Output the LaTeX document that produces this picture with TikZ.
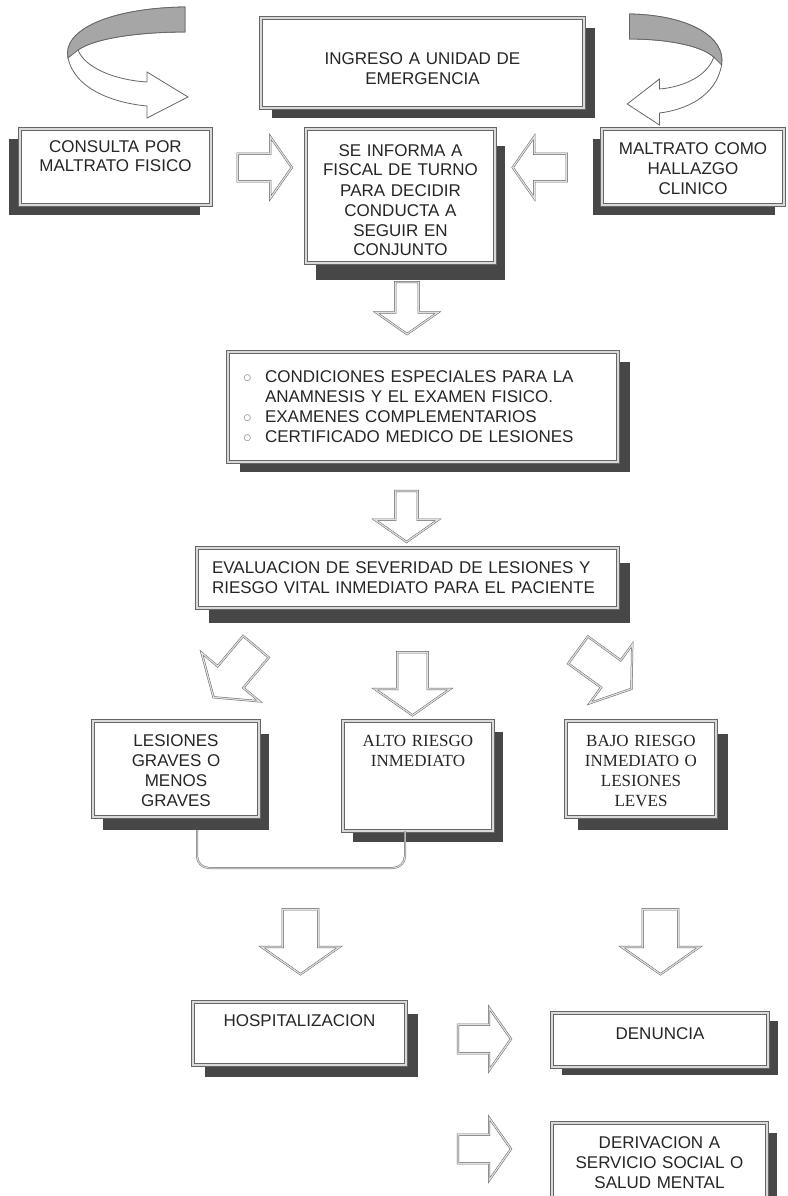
\documentclass[tikz,border=0pt]{standalone}
\usepackage{fontspec}
\setmainfont{Liberation Sans}
\newfontfamily\timesfont{Liberation Serif}
\usetikzlibrary{shapes.arrows,shadows,calc}

\begin{document}
\begin{tikzpicture}[x=1pt,y=-1pt,
    every node/.style={inner sep=0pt,outer sep=0pt,text=black!85,font=\fontsize{17}{20}\selectfont},
    box/.style={draw=black!60,double=black!15,double distance=2pt,line width=.7pt,fill=white,align=center},
    dropsh/.style 2 args={drop shadow={shadow xshift=#1,shadow yshift=#2,fill=black!72,opacity=1}},
    blockarrow/.style={single arrow,draw=black!60,double=black!12,double distance=1.2pt,line width=.5pt,fill=white,inner xsep=0pt,single arrow tip angle=110,single arrow head indent=0pt},
    curve/.style={draw=black!60,line width=.8pt},
    bracket/.style={draw=black!55,double=black!15,double distance=1pt,line width=.5pt,rounded corners=12pt}]
      \useasboundingbox (0,0) rectangle (787,1196);

      \filldraw[curve,fill=white] (185,7) .. controls (110,8) and (62,30) .. (68,58) .. controls (75,90) and (115,103) .. (147,106) -- (147,118) -- (188,97) -- (147,72) -- (147,82) .. controls (115,80) and (85,68) .. (78,50) .. controls (95,38) and (140,32) .. (185,32) -- cycle;
      \filldraw[curve,fill=black!35] (185,7) .. controls (110,8) and (62,30) .. (68,58) -- (78,50) .. controls (95,38) and (140,32) .. (185,32) -- cycle;
      \begin{scope}[xshift=775pt,xscale=-0.786,yshift=-7pt]
        \filldraw[curve,fill=white] (185,7) .. controls (110,8) and (62,30) .. (68,58) .. controls (75,90) and (115,103) .. (147,106) -- (147,118) -- (188,97) -- (147,72) -- (147,82) .. controls (115,80) and (85,68) .. (78,50) .. controls (95,38) and (140,32) .. (185,32) -- cycle;
        \filldraw[curve,fill=black!35] (185,7) .. controls (110,8) and (62,30) .. (68,58) -- (78,50) .. controls (95,38) and (140,32) .. (185,32) -- cycle;
      \end{scope}

      \draw (422.5,63) node[box,dropsh={11pt}{-10pt},text width=323pt,text height=47pt,text depth=43pt] (ingreso) {INGRESO A UNIDAD DE\\EMERGENCIA};
      \draw (115.5,167) node[box,dropsh={-11pt}{-10pt},text width=191pt,text height=23pt,text depth=53pt] (consulta) {CONSULTA POR\\MALTRATO FISICO};
      \draw (400.5,196) node[box,dropsh={10pt}{-17pt},text width=189pt,text height=27pt,text depth=107pt] (informa) {SE INFORMA A\\FISCAL DE TURNO\\PARA DECIDIR\\CONDUCTA A\\SEGUIR EN\\CONJUNTO};
      \draw (693,167) node[box,dropsh={-9pt}{-10pt},text width=182pt,text height=25pt,text depth=51pt] (maltrato) {MALTRATO COMO\\HALLAZGO\\CLINICO};

      \draw (260,167.5) node[blockarrow,minimum height=54pt,inner ysep=13.5pt,single arrow head extend=17pt] (flecha1) {};
      \draw (544.5,167.5) node[blockarrow,rotate=180,minimum height=54pt,inner ysep=13.5pt,single arrow head extend=17pt] (flecha2) {};
      \draw (407,304) node[blockarrow,rotate=-90,minimum height=52pt,inner ysep=11.5pt,single arrow head extend=19pt] (flecha3) {};

      \draw (423,407) node[box,align=left,dropsh={12pt}{-10pt},text width=390pt,text height=30pt,text depth=80pt] (condiciones) {\hspace*{15pt}\makebox[22pt][l]{\textcolor{black!45}{$\circ$}}CONDICIONES ESPECIALES PARA LA\\\hspace*{37pt}ANAMNESIS Y EL EXAMEN FISICO.\\\hspace*{15pt}\makebox[22pt][l]{\textcolor{black!45}{$\circ$}}EXAMENES COMPLEMENTARIOS\\\hspace*{15pt}\makebox[22pt][l]{\textcolor{black!45}{$\circ$}}CERTIFICADO MEDICO DE LESIONES};

      \draw (406.5,512.5) node[blockarrow,rotate=-90,minimum height=51pt,inner ysep=11pt,single arrow head extend=20.5pt] (flecha4) {};

      \draw (407.5,578) node[box,align=left,dropsh={12pt}{-15pt},text width=421pt,text height=25pt,text depth=35pt] (evaluacion) {\hspace*{15pt}EVALUACION DE SEVERIDAD DE LESIONES Y\\\hspace*{15pt}RIESGO VITAL INMEDIATO PARA EL PACIENTE};

      \draw (238.5,667.5) node[blockarrow,rotate=-130,minimum height=66pt,inner ysep=16.5pt,single arrow head extend=21pt] (flecha5) {};
      \draw (412.5,678.5) node[blockarrow,rotate=-90,minimum height=63pt,inner ysep=15pt,single arrow head extend=22.5pt] (flecha6) {};
      \draw (600,666) node[blockarrow,rotate=-36,minimum height=66pt,inner ysep=16.5pt,single arrow head extend=19.5pt] (flecha7) {};

      \draw (176,769) node[box,dropsh={10pt}{-13pt},text width=166pt,text height=25pt,text depth=71pt] (lesiones) {LESIONES\\GRAVES O\\MENOS\\GRAVES};
      \draw (418,776) node[box,dropsh={10pt}{-11pt},font=\timesfont\fontsize{17}{20}\selectfont,text width=150pt,text height=25pt,text depth=85pt] (alto) {ALTO RIESGO\\INMEDIATO};
      \draw (641,769) node[box,dropsh={12pt}{-13pt},font=\timesfont\fontsize{17}{20}\selectfont,text width=150pt,text height=25pt,text depth=71pt] (bajo) {BAJO RIESGO\\INMEDIATO O\\LESIONES\\LEVES};

      \draw[bracket] ($(lesiones.south)+(21,13)$) -- ($(lesiones.south)+(21,51)$) -- ($(alto.south)+(-13,37)$) -- ($(alto.south)+(-13,0)$);

      \draw (300.5,935.5) node[blockarrow,rotate=-90,minimum height=65pt,inner ysep=17.5pt,single arrow head extend=21pt] (flecha8) {};
      \draw (660.5,935.5) node[blockarrow,rotate=-90,minimum height=65pt,inner ysep=17.5pt,single arrow head extend=21pt] (flecha9) {};

      \draw (299.5,1033.5) node[box,dropsh={12pt}{-12pt},text width=213pt,text height=24pt,text depth=39pt] (hosp) {HOSPITALIZACION};
      \draw (660,1040) node[box,dropsh={10pt}{-8pt},text width=216pt,text height=26pt,text depth=28pt] (denuncia) {DENUNCIA};
      \draw (659.5,1166.5) node[box,dropsh={10pt}{-10pt},text width=215pt,text height=25pt,text depth=62pt] (derivacion) {DERIVACION A\\SERVICIO SOCIAL O\\SALUD MENTAL};

      \draw (479.5,1039) node[blockarrow,minimum height=53pt,inner ysep=14pt,single arrow head extend=17pt] (flecha10) {};
      \draw (479.5,1149) node[blockarrow,minimum height=53pt,inner ysep=14pt,single arrow head extend=17pt] (flecha11) {};
    \end{tikzpicture}
\end{document}
